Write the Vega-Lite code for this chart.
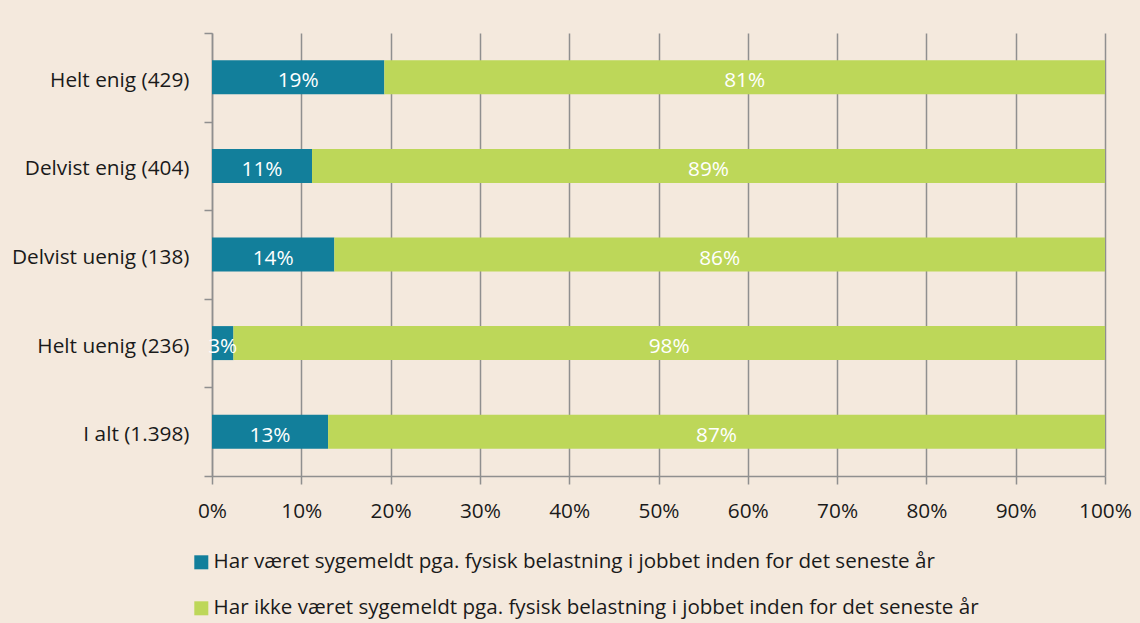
{
  "$schema": "https://vega.github.io/schema/vega-lite/v6.json",
  "autosize": "none",
  "width": 893,
  "height": 443,
  "padding": {"left": 212, "top": 33, "right": 35, "bottom": 147},
  "background": "#F4E9DD",
  "config": {
    "view": {"stroke": null},
    "font": "Open Sans",
    "axis": {"labelFont": "Open Sans", "labelFontSize": 20.8, "labelColor": "#1a1a1a", "domainColor": "#8f8f8f", "tickColor": "#8f8f8f", "gridColor": "#8f8f8f", "domainWidth": 1.5, "tickWidth": 1.5, "gridWidth": 1.5, "tickSize": 8, "title": null, "labelFlush": false}
  },
  "data": {
    "values": [
      {"category": "Helt enig (429)", "series": "Har været sygemeldt pga. fysisk belastning i jobbet inden for det seneste år", "ord": 1, "value": 19.3, "label": "19%"},
      {"category": "Helt enig (429)", "series": "Har ikke været sygemeldt pga. fysisk belastning i jobbet inden for det seneste år", "ord": 2, "value": 80.7, "label": "81%"},
      {"category": "Delvist enig (404)", "series": "Har været sygemeldt pga. fysisk belastning i jobbet inden for det seneste år", "ord": 1, "value": 11.2, "label": "11%"},
      {"category": "Delvist enig (404)", "series": "Har ikke været sygemeldt pga. fysisk belastning i jobbet inden for det seneste år", "ord": 2, "value": 88.8, "label": "89%"},
      {"category": "Delvist uenig (138)", "series": "Har været sygemeldt pga. fysisk belastning i jobbet inden for det seneste år", "ord": 1, "value": 13.7, "label": "14%"},
      {"category": "Delvist uenig (138)", "series": "Har ikke været sygemeldt pga. fysisk belastning i jobbet inden for det seneste år", "ord": 2, "value": 86.3, "label": "86%"},
      {"category": "Helt uenig (236)", "series": "Har været sygemeldt pga. fysisk belastning i jobbet inden for det seneste år", "ord": 1, "value": 2.4, "label": "3%"},
      {"category": "Helt uenig (236)", "series": "Har ikke været sygemeldt pga. fysisk belastning i jobbet inden for det seneste år", "ord": 2, "value": 97.6, "label": "98%"},
      {"category": "I alt (1.398)", "series": "Har været sygemeldt pga. fysisk belastning i jobbet inden for det seneste år", "ord": 1, "value": 13.0, "label": "13%"},
      {"category": "I alt (1.398)", "series": "Har ikke været sygemeldt pga. fysisk belastning i jobbet inden for det seneste år", "ord": 2, "value": 87.0, "label": "87%"}
    ]
  },
  "encoding": {
    "y": {
      "field": "category",
      "type": "nominal",
      "sort": null,
      "scale": {"paddingInner": 0, "paddingOuter": 0},
      "axis": {"tickBand": "extent", "grid": false, "labelPadding": 15, "labelOffset": 3}
    }
  },
  "layer": [
    {
      "mark": {"type": "bar", "size": 34},
      "encoding": {
        "x": {
          "field": "value",
          "type": "quantitative",
          "stack": "zero",
          "scale": {"domain": [0, 100], "nice": false},
          "axis": {"values": [0, 10, 20, 30, 40, 50, 60, 70, 80, 90, 100], "labelExpr": "datum.value + '%'", "grid": true, "labelPadding": 17}
        },
        "order": {"field": "ord", "type": "quantitative"},
        "color": {
          "field": "series",
          "type": "nominal",
          "sort": null,
          "scale": {
            "domain": ["Har været sygemeldt pga. fysisk belastning i jobbet inden for det seneste år", "Har ikke været sygemeldt pga. fysisk belastning i jobbet inden for det seneste år"],
            "range": ["#127F9B", "#BDD759"]
          },
          "legend": {
            "title": null,
            "orient": "none",
            "legendX": -21,
            "legendY": 519,
            "direction": "vertical",
            "symbolType": "square",
            "symbolSize": 196,
            "symbolStrokeWidth": 0,
            "symbolOpacity": 1,
            "labelFont": "Open Sans",
            "labelFontSize": 20.6,
            "labelColor": "#1a1a1a",
            "labelLimit": 1000,
            "labelOffset": 2,
            "rowPadding": 25,
            "padding": 0
          }
        }
      }
    },
    {
      "mark": {"type": "text", "color": "white", "fontSize": 20.8, "font": "Open Sans", "align": "center", "baseline": "middle", "dy": 4},
      "encoding": {
        "x": {"field": "value", "type": "quantitative", "stack": "zero", "bandPosition": 0.5},
        "order": {"field": "ord", "type": "quantitative"},
        "detail": {"field": "series", "type": "nominal"},
        "text": {"field": "label", "type": "nominal"}
      }
    }
  ]
}
